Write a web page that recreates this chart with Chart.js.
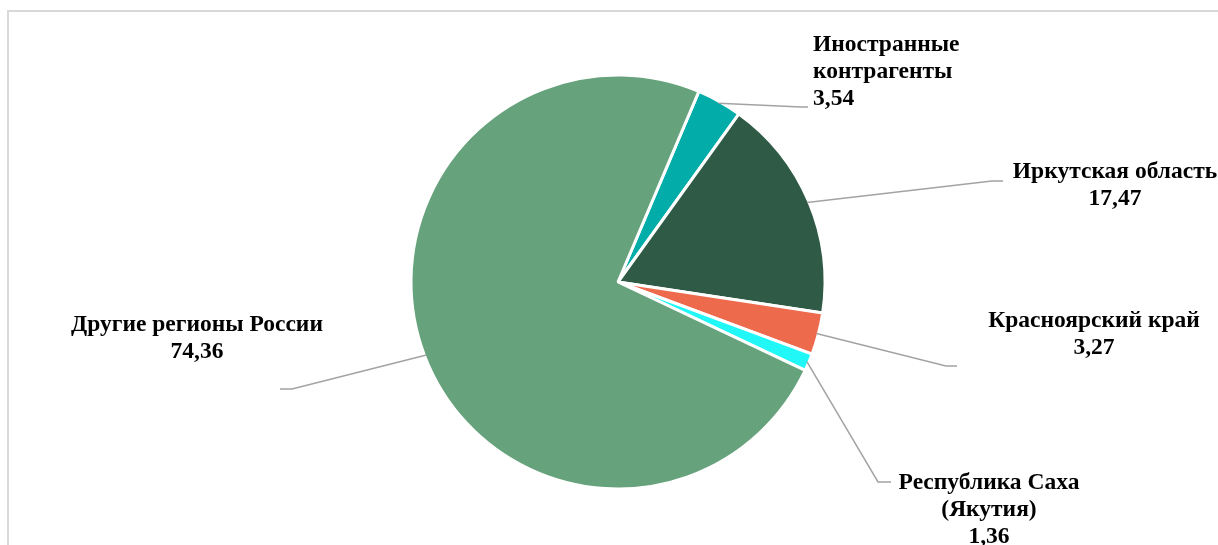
<!DOCTYPE html>
<html lang="ru">
<head>
<meta charset="utf-8">
<title>Структура по регионам</title>
<script src="https://cdn.jsdelivr.net/npm/chart.js@4/dist/chart.umd.min.js"></script>
<style>
  html, body { margin: 0; padding: 0; background: #ffffff; }
  #wrap { position: relative; width: 1218px; height: 545px; overflow: hidden; }
</style>
</head>
<body>
<div id="wrap"><canvas id="regions-pie" width="1218" height="545"></canvas></div>
<script>
(function() {
  'use strict';

  // Категории (строки подписи разбиты по '\n')
  var categories = [
    'Иностранные\nконтрагенты',
    'Иркутская область',
    'Красноярский край',
    'Республика Саха\n(Якутия)',
    'Другие регионы России'
  ];
  var shares = [3.54, 17.47, 3.27, 1.36, 74.36];
  var sliceColors = ['#02aca9', '#2e5a46', '#ee6a4c', '#22f7f7', '#66a27c'];

  // Размещение выносок: излом линии, её конец, позиция текста
  var calloutLayout = [
    { elbow: [801, 107], end: [808, 107], text: [813, 45],  align: 'left' },
    { elbow: [992, 181], end: [1003, 181], text: [1115, 172], align: 'center' },
    { elbow: [946, 366], end: [957, 366], text: [1094, 321], align: 'center' },
    { elbow: [878, 482], end: [891, 482], text: [989, 483], align: 'center' },
    { elbow: [292, 389], end: [280, 389], text: [197, 325], align: 'center' }
  ];

  var FONT_LABEL = "bold 23.5px 'Liberation Serif', 'Times New Roman', serif";
  var LINE_H = 26.8;
  var LEADER = '#a3a3a3';
  var FRAME = '#d9d9d9';

  function fmt(v) {
    return v.toFixed(2).replace('.', ',');
  }

  var framePlugin = {
    id: 'frame',
    beforeDraw: function(chart) {
      var c = chart.ctx;
      c.save();
      c.fillStyle = '#ffffff';
      c.fillRect(0, 0, chart.width, chart.height);
      c.strokeStyle = FRAME;
      c.lineWidth = 2;
      c.beginPath();
      c.moveTo(8, chart.height);
      c.lineTo(8, 11);
      c.lineTo(chart.width, 11);
      c.stroke();
      c.restore();
    }
  };

  var calloutPlugin = {
    id: 'callouts',
    afterDatasetsDraw: function(chart) {
      var c = chart.ctx;
      var meta = chart.getDatasetMeta(0);
      c.save();
      meta.data.forEach(function(arc, i) {
        var lay = calloutLayout[i];
        var p = arc.getProps(['x', 'y', 'startAngle', 'endAngle', 'outerRadius'], true);
        var mid = (p.startAngle + p.endAngle) / 2;
        var sx = p.x + Math.cos(mid) * (p.outerRadius - 2);
        var sy = p.y + Math.sin(mid) * (p.outerRadius - 2);

        c.strokeStyle = LEADER;
        c.lineWidth = 1.5;
        c.beginPath();
        c.moveTo(sx, sy);
        c.lineTo(lay.elbow[0], lay.elbow[1]);
        c.lineTo(lay.end[0], lay.end[1]);
        c.stroke();

        var lines = chart.data.labels[i].split('\n');
        lines.push(fmt(chart.data.datasets[0].data[i]));
        c.font = FONT_LABEL;
        c.fillStyle = '#000000';
        c.textAlign = lay.align;
        c.textBaseline = 'middle';
        lines.forEach(function(line, k) {
          c.fillText(line, lay.text[0], lay.text[1] + k * LINE_H);
        });
      });
      c.restore();
    }
  };

  new Chart(document.getElementById('regions-pie'), {
    type: 'pie',
    data: {
      labels: categories,
      datasets: [{
        data: shares,
        backgroundColor: sliceColors,
        borderColor: '#ffffff',
        borderWidth: 3
      }]
    },
    options: {
      responsive: false,
      animation: false,
      rotation: 23,
      radius: 207,
      layout: { padding: { left: 18, right: 0, top: 19, bottom: 0 } },
      plugins: {
        legend: { display: false },
        tooltip: { enabled: false }
      }
    },
    plugins: [framePlugin, calloutPlugin]
  });
})();
</script>
</body>
</html>
